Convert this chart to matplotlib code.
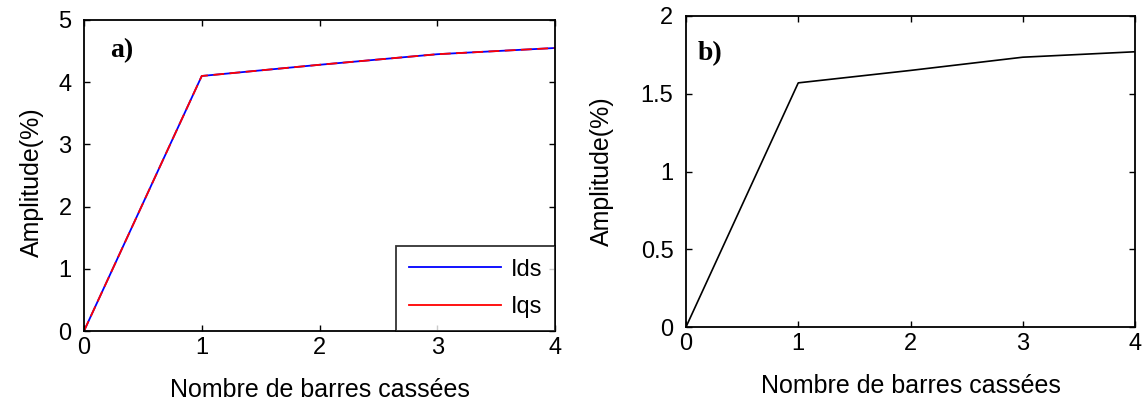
import matplotlib
matplotlib.use("Agg")
import matplotlib.pyplot as plt

x_bars = [0, 1, 2, 3, 4]
ids_vals = [0, 4.10, 4.28, 4.45, 4.55]
iqs_vals = [0, 4.10, 4.28, 4.45, 4.55]
b_vals = [0, 1.57, 1.65, 1.735, 1.77]

xticks = [0, 1, 2, 3, 4]
yticks_a = [0, 1, 2, 3, 4, 5]
yticks_b = [0, 0.5, 1, 1.5, 2]
yticklabels_b = ["0", "0.5", "1", "1.5", "2"]

plt.rcParams['font.family'] = ['Liberation Sans', 'DejaVu Sans']

fig = plt.figure(figsize=(11.46, 4.07), dpi=100)
W, H = 1146, 407
ax1 = fig.add_axes([84 / W, 1 - 331 / H, (555 - 84) / W, (331 - 20) / H])
ax2 = fig.add_axes([686 / W, 1 - 327 / H, (1135 - 686) / W, (327 - 16) / H])

FS = 17

def style(ax):
    ax.tick_params(direction='in', top=True, right=True, labelsize=FS, length=4,
                   width=1, color='black')
    ax.tick_params(axis='y', pad=9)
    ax.tick_params(axis='x', pad=4)
    for s in ax.spines.values():
        s.set_linewidth(1.3)
    ax.set_xlim(0, 4)
    ax.set_xticks(xticks)
    ax.set_xlabel("Nombre de barres cassées", fontsize=FS + 1)
    ax.set_ylabel("Amplitude(%)", fontsize=FS + 1)

ax1.plot(x_bars, ids_vals, color='blue', lw=1.3, label='Ids')
ax1.plot(x_bars, iqs_vals, color='red', lw=1.3, label='Iqs', dashes=(6, 3))
ax1.set_ylim(0, 5)
ax1.set_yticks(yticks_a)
style(ax1)
ax1.xaxis.set_label_coords(0.5, -0.15)
ax1.yaxis.set_label_coords(-0.085, 0.48)
leg = ax1.legend(loc='lower right', fontsize=FS, frameon=True, fancybox=False,
                 edgecolor='black', borderaxespad=0, handlelength=3.9,
                 handletextpad=0.4, borderpad=0.55, labelspacing=0.65)
leg.get_frame().set_linewidth(1.3)
for h in leg.get_lines():
    h.set_linestyle('-')
ax1.text(0.055, 0.90, "a)", transform=ax1.transAxes, fontsize=20, fontweight='bold',
         family='Liberation Serif', va='center')

ax2.plot(x_bars, b_vals, color='black', lw=1.2)
ax2.set_ylim(0, 2)
ax2.set_yticks(yticks_b)
ax2.set_yticklabels(yticklabels_b)
style(ax2)
ax2.xaxis.set_label_coords(0.5, -0.15)
ax2.yaxis.set_label_coords(-0.16, 0.5)
ax2.text(0.025, 0.88, "b)", transform=ax2.transAxes, fontsize=20, fontweight='bold',
         family='Liberation Serif', va='center')

fig.savefig("out.png", dpi=100)
